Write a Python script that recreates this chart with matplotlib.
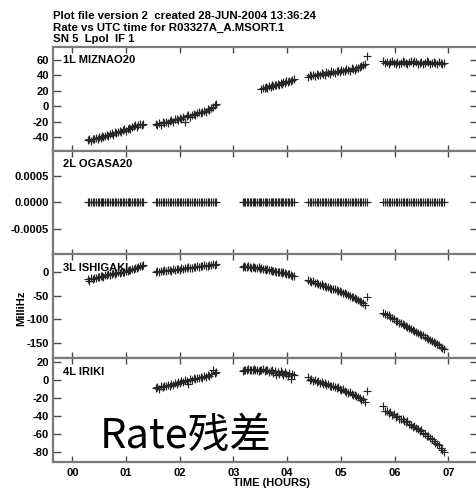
import matplotlib
matplotlib.use("Agg")
import matplotlib.pyplot as plt
from matplotlib.ticker import FixedLocator, FixedFormatter

# Observation times (UTC hours) for the five scans, shared by all baselines
scan1_t = [0.29, 0.32, 0.35, 0.38, 0.41, 0.44, 0.47, 0.50, 0.53, 0.55, 0.58, 0.61,
           0.64, 0.67, 0.70, 0.73, 0.76, 0.79, 0.82, 0.85, 0.88, 0.91, 0.94, 0.97,
           1.00, 1.03, 1.06, 1.08, 1.11, 1.14, 1.17, 1.20, 1.23, 1.26, 1.29, 1.32]
scan2_t = [1.55, 1.58, 1.61, 1.65, 1.68, 1.71, 1.74, 1.78, 1.81, 1.84, 1.87, 1.91,
           1.94, 1.97, 2.00, 2.03, 2.07, 2.10, 2.13, 2.16, 2.20, 2.23, 2.26, 2.29,
           2.33, 2.36, 2.39, 2.42, 2.46, 2.49, 2.52, 2.55, 2.58, 2.62, 2.65, 2.68]
scan3_t = [3.17, 3.20, 3.22, 3.25, 3.28, 3.31, 3.33, 3.36, 3.39, 3.41, 3.44, 3.47,
           3.50, 3.52, 3.55, 3.58, 3.60, 3.63, 3.66, 3.69, 3.71, 3.74, 3.77, 3.79,
           3.82, 3.85, 3.88, 3.90, 3.93, 3.96, 3.98, 4.01, 4.04, 4.07, 4.09, 4.12]
scan4_t = [4.39, 4.42, 4.45, 4.48, 4.51, 4.55, 4.58, 4.61, 4.64, 4.67, 4.70, 4.73,
           4.76, 4.79, 4.82, 4.86, 4.89, 4.92, 4.95, 4.98, 5.01, 5.04, 5.07, 5.10,
           5.14, 5.17, 5.20, 5.23, 5.26, 5.29, 5.32, 5.35, 5.38, 5.41, 5.45, 5.48]
scan5_t = [5.79, 5.82, 5.85, 5.89, 5.92, 5.95, 5.98, 6.02, 6.05, 6.08, 6.11, 6.15,
           6.18, 6.21, 6.24, 6.27, 6.31, 6.34, 6.37, 6.40, 6.44, 6.47, 6.50, 6.53,
           6.57, 6.60, 6.63, 6.66, 6.70, 6.73, 6.76, 6.79, 6.82, 6.86, 6.89, 6.92]

# Rate residuals (milliHz) per baseline and scan
miznao_s1 = [-44, -43, -45, -43, -42, -41, -43, -40, -41, -39, -40, -38,
             -37, -39, -36, -35, -37, -34, -35, -33, -32, -34, -31, -30,
             -32, -29, -28, -30, -27, -26, -24, -27, -25, -23, -24, -23]
miznao_s2 = [-23, -25, -22, -24, -21, -22, -20, -22, -19, -18, -20, -17,
             -16, -18, -15, -16, -14, -20, -13, -12, -14, -11, -10, -12,
             -9, -8, -9, -7, -6, -7, -4, -5, -3, -1, 1, 3]
miznao_s3 = [22, 24, 23, 25, 24, 26, 25, 27, 26, 28, 27, 29,
             28, 30, 29, 31, 30, 32, 31, 33, 32, 34, 35]
miznao_s4 = [38, 40, 39, 41, 39, 42, 40, 41, 43, 42, 41, 44,
             43, 42, 45, 44, 43, 46, 45, 44, 47, 46, 45, 48,
             47, 46, 49, 48, 47, 50, 49, 51, 52, 53, 54, 65]
miznao_s5 = [58, 56, 57, 55, 57, 58, 56, 54, 57, 55, 56, 58,
             57, 56, 55, 57, 59, 56, 58, 57, 55, 56, 57, 54,
             56, 58, 57, 55, 56, 57, 56, 55, 57, 56, 55, 56]

ogasa_s = [0.0] * 36

ishigaki_s1 = [-15, -20, -13, -14, -12, -13, -10, -11, -9, -8, -10, -7,
               -6, -5, -7, -4, -3, -4, -2, -1, -2, 0, 1, 0,
               2, 3, 5, 4, 6, 7, 9, 8, 10, 12, 13, 15]
ishigaki_s2 = [1, 2, 0, 3, 2, 4, 3, 5, 4, 3, 6, 5,
               7, 6, 5, 8, 7, 9, 8, 10, 9, 8, 11, 10,
               12, 11, 13, 12, 14, 13, 12, 15, 14, 16, 15, 17]
ishigaki_s3 = [11, 12, 10, 11, 12, 10, 9, 11, 10, 8, 9, 10,
               7, 8, 6, 7, 5, 6, 4, 5, 3, 2, 3, 1,
               0, 1, -1, -2, -1, -3, -4, -5, -4, -6, -8, -9]
ishigaki_s4 = [-18, -19, -21, -20, -23, -24, -25, -27, -26, -29, -30, -32,
               -31, -34, -35, -37, -36, -39, -41, -40, -43, -45, -44, -47,
               -49, -50, -52, -54, -55, -57, -59, -61, -64, -66, -69, -54]
ishigaki_s5 = [-86, -89, -92, -91, -96, -98, -99, -103, -104, -107, -109, -110,
               -113, -115, -116, -119, -121, -122, -125, -127, -129, -131, -133, -134,
               -137, -139, -141, -143, -146, -148, -150, -153, -155, -158, -160, -163]

iriki_s2 = [-9, -8, -10, -7, -8, -6, -7, -5, -6, -4, -5, -3,
            -4, -2, -3, -1, -2, 0, -1, -4, 1, 0, 2, 1,
            3, 2, 4, 3, 5, 4, 6, 5, 7, 12, 8, 9]
iriki_s3 = [10, 11, 12, 11, 13, 12, 11, 12, 13, 11, 12, 10,
            12, 11, 13, 10, 11, 12, 9, 10, 11, 8, 10, 6,
            9, 7, 10, 8, 6, 9, 7, 5, 8, 1, 7, 6]
iriki_s4 = [4, 0, 1, -1, 0, -2, -1, -3, -2, -4, -3, -5,
            -4, -6, -7, -6, -8, -9, -8, -10, -11, -10, -12, -13,
            -14, -13, -15, -16, -17, -18, -19, -20, -22, -21, -24, -12]
iriki_s5 = [-29, -35, -34, -37, -36, -39, -38, -41, -40, -43, -44, -43,
            -46, -47, -46, -49, -50, -52, -51, -54, -55, -57, -56, -59,
            -60, -62, -63, -65, -66, -68, -70, -72, -73, -76, -78, -80]

panel_names = ["1L MIZNAO20", "2L OGASA20", "3L ISHIGAKI", "4L IRIKI"]

panel_series = [
    [(scan1_t, miznao_s1), (scan2_t, miznao_s2), (scan3_t[13:], miznao_s3),
     (scan4_t, miznao_s4), (scan5_t, miznao_s5)],
    [(scan1_t, ogasa_s), (scan2_t, ogasa_s), (scan3_t, ogasa_s),
     (scan4_t, ogasa_s), (scan5_t, ogasa_s)],
    [(scan1_t, ishigaki_s1), (scan2_t, ishigaki_s2), (scan3_t, ishigaki_s3),
     (scan4_t, ishigaki_s4), (scan5_t, ishigaki_s5)],
    [(scan2_t, iriki_s2), (scan3_t, iriki_s3), (scan4_t, iriki_s4), (scan5_t, iriki_s5)],
]

panel_yticks = [
    [60, 40, 20, 0, -20, -40],
    [0.0005, 0.0, -0.0005],
    [0, -50, -100, -150],
    [20, 0, -20, -40, -60, -80],
]
panel_yticklabels = [
    ["60", "40", "20", "0", "-20", "-40"],
    ["0.0005", "0.0000", "-0.0005"],
    ["0", "-50", "-100", "-150"],
    ["20", "0", "-20", "-40", "-60", "-80"],
]
panel_ylims = [(-57.5, 77), (-0.00099, 0.00097), (-183, 37), (-92, 24.5)]

hour_ticks = [0, 1, 2, 3, 4, 5, 6, 7]
hour_labels = ["00", "01", "02", "03", "04", "05", "06", "07"]

title_lines = ["Plot file version 2  created 28-JUN-2004 13:36:24",
               "Rate vs UTC time for R03327A_A.MSORT.1",
               "SN 5  Lpol  IF 1"]

W, H = 477, 488
fig = plt.figure(figsize=(W / 100, H / 100), dpi=100)
fig.patch.set_facecolor("white")

bold = dict(family="Liberation Sans", weight="bold")
spine_col = "#7a7a7a"
fs = 8.0

# Four stacked panels sharing the time axis, no gap between them
left_px, right_px, top_px, bot_px = 53.5, 477.6, 46.7, 462.3
ph = (bot_px - top_px) / 4
axes = []
for i in range(4):
    top = top_px + i * ph
    ax = fig.add_axes([left_px / W, 1 - (top + ph) / H,
                       (right_px - left_px) / W, ph / H])
    axes.append(ax)

for i, ax in enumerate(axes):
    for t, v in panel_series[i]:
        ax.plot(t, v, linestyle="none", marker="+", markersize=5.4,
                markeredgewidth=0.85, color="#262626")
    ax.set_xlim(-0.35, 7.545)
    ax.set_ylim(*panel_ylims[i])
    ax.yaxis.set_major_locator(FixedLocator(panel_yticks[i]))
    ax.yaxis.set_major_formatter(FixedFormatter(panel_yticklabels[i]))
    ax.xaxis.set_major_locator(FixedLocator(hour_ticks))
    if i == 3:
        ax.xaxis.set_major_formatter(FixedFormatter(hour_labels))
    else:
        ax.xaxis.set_major_formatter(FixedFormatter([""] * len(hour_ticks)))
    ax.tick_params(axis="both", direction="in", top=True, right=True,
                   color="#4a4a4a", width=1.0, labelsize=fs, labelcolor="black")
    ax.tick_params(axis="y", length=5.5, pad=3.2)
    ax.tick_params(axis="x", length=4, pad=4.0)
    for lab in ax.get_xticklabels() + ax.get_yticklabels():
        lab.set_family("Liberation Sans")
        lab.set_weight("bold")
    for sp in ax.spines.values():
        sp.set_color(spine_col)
        sp.set_linewidth(1.6)
    ax.annotate(panel_names[i], xy=(0, 1), xycoords="axes fraction",
                xytext=(7.0, -11.8), textcoords="offset points",
                ha="left", va="baseline", fontsize=fs, **bold)

fig.text(21 / W, 1 - 308 / H, "MilliHz", rotation=90, ha="center", va="center",
         fontsize=fs, **bold)

fig.text(272 / W, 1 - 482.5 / H, "TIME (HOURS)", ha="center", va="center",
         fontsize=fs, **bold)

for k, line in enumerate(title_lines):
    fig.text(53 / W, 1 - (19 + 11.7 * k) / H, line, ha="left", va="baseline",
             fontsize=8.2, **bold)

fig.text(100 / W, 1 - 448 / H, "Rate残差", ha="left", va="baseline",
         fontsize=30, family=["Noto Sans CJK SC", "DejaVu Sans"], color="black")

fig.savefig("out.png", dpi=100, facecolor="white")
